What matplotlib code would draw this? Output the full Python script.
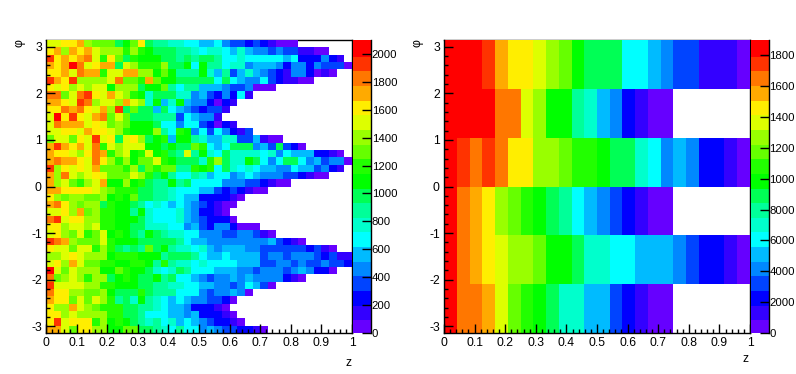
import numpy as np
import matplotlib
matplotlib.use("Agg")
import matplotlib.pyplot as plt
from matplotlib.colors import ListedColormap, BoundaryNorm

plt.rcParams['font.family'] = ['Liberation Sans', 'DejaVu Sans']

palette = ['#6600ff', '#3300ff', '#0000ff', '#0044ff', '#0088ff', '#00bbff', '#00ffff',
           '#00ffcc', '#00ff99', '#00ff55', '#00ff00', '#22ff00', '#66ff00', '#99ff00',
           '#ddff00', '#ffee00', '#ffaa00', '#ff7700', '#ff3300', '#ff0000']

# Palette level of each cell, top row (phi = +pi) first; short rows end in empty bins.
left_low = [
    [14,14,15,15,16,13,12,12,12,9,10,12,15,9,8,8,7,7,6,6],
    [15,16,13,16,15,16,14,13,13,13,11,13,11,10,9,9,9,8,8,7],
    [18,15,16,15,16,17,14,11,15,12,9,11,10,10,10,9,9,8,9,8],
    [16,15,16,19,17,14,15,16,16,9,14,13,11,11,11,13,9,9,10,6],
    [15,15,16,14,17,16,16,11,14,14,16,16,13,13,10,12,10,8,8,8],
    [18,16,15,18,13,13,13,13,14,17,12,12,11,16,12,10,10,9,9,9],
    [15,14,15,13,14,13,14,14,10,13,13,13,9,10,10,12,8,6,8,8],
    [17,17,12,14,17,18,15,14,16,14,13,11,10,7,9,9,9,7,7,4],
    [16,16,15,14,18,17,13,14,14,13,16,14,13,7,10,5,7,10,5,4],
    [15,15,17,16,17,15,14,16,13,18,9,12,9,9,5,9,6,5,4,3],
    [14,19,15,18,15,14,16,17,12,14,12,9,9,9,8,8,8,3,6,5],
    [14,17,16,16,16,14,15,14,12,13,12,10,10,10,9,6,6,4,6,6],
    [14,14,15,15,14,16,15,15,14,13,11,10,10,10,13,8,6,11,10,4],
    [12,14,14,12,15,14,18,14,15,9,14,15,13,9,10,11,5,10,10,8],
    [16,18,16,15,16,14,17,11,14,13,14,14,14,10,10,9,10,9,9,12],
    [16,15,15,14,13,15,17,16,11,13,14,10,11,14,10,11,9,8,14,8],
    [16,17,16,16,15,14,17,15,13,11,13,10,12,12,14,11,10,9,9,9],
    [18,13,15,14,15,14,16,12,12,12,11,13,9,12,11,12,12,8,8,11],
    [16,13,17,14,13,14,15,14,12,12,12,14,13,11,9,10,8,6,6,8],
    [16,13,14,12,11,13,14,16,10,10,13,10,11,9,8,8,10,8,9,6],
    [16,16,15,15,15,15,14,13,12,11,11,11,9,9,8,8,7,6,6,6],
    [15,13,12,13,13,12,12,13,10,11,10,12,9,9,8,8,7,6,5,5],
    [16,17,15,13,12,13,13,9,11,10,10,9,8,6,7,6,5,6,5,4],
    [14,14,15,13,16,12,13,11,11,10,10,8,10,7,6,6,6,7,5,4],
    [17,18,14,15,15,13,13,11,11,10,10,10,9,7,6,6,6,7,5,4],
    [15,15,13,14,14,13,14,11,11,10,10,9,9,7,7,7,6,6,4,5],
    [14,15,13,12,14,11,12,14,10,11,10,9,8,10,9,8,7,7,6,6],
    [18,17,16,13,12,12,12,14,11,10,10,10,9,9,9,9,9,8,6,5],
    [15,14,14,12,14,14,11,13,11,9,8,9,8,12,9,10,8,7,7,6],
    [13,13,14,15,14,13,13,13,10,11,11,11,10,10,10,8,9,9,9,8],
    [14,15,13,16,14,12,12,11,11,10,10,11,11,10,8,11,8,7,7,6],
    [19,14,12,14,13,13,13,10,10,12,11,10,10,9,7,6,7,9,8,6],
    [17,12,13,14,13,11,13,13,9,10,11,10,9,9,10,8,9,6,6,5],
    [18,14,14,14,14,13,13,11,11,10,10,10,9,9,8,8,7,7,6,6],
    [17,15,15,13,13,12,12,13,10,9,9,9,11,9,8,8,8,6,6,6],
    [16,15,15,12,14,12,14,13,11,8,9,7,10,8,7,6,5,6,5,4],
    [15,13,13,16,14,13,12,11,11,11,9,9,8,8,7,6,5,5,4,2],
    [15,15,13,14,13,13,13,13,11,11,9,9,8,6,6,6,5,5,4,5],
    [15,18,14,15,15,15,11,13,10,11,10,9,8,7,8,6,7,5,6,5],
    [16,16,14,12,15,15,13,13,10,10,12,12,9,9,8,7,6,8,6,6],
]
left_high = [
    [5,5,6,4,3,3,2,3,2,1,0,0,0],
    [6,7,7,6,5,7,5,4,4,3,4,3,3,1,1,0,0],
    [9,9,8,6,6,7,6,6,6,6,6,5,6,2,2,2,4,2,1],
    [10,8,8,6,7,7,4,5,5,5,4,2,4,4,2,4,3,3,3,0],
    [10,7,5,8,3,5,7,5,4,3,2,1,4,4,2,0,1,0],
    [9,9,6,9,6,5,4,4,6,3,2,1,1,0,0],
    [5,5,5,4,3,3,4,0,0,0],
    [5,3,2,4,2,6,1],
    [4,2,0,2,1],
    [2,3,3,1],
    [4,4,1],
    [3,2,0,2,1],
    [6,3,6,4,2,1,3],
    [7,5,5,7,7,3,3,5,1,0,0],
    [11,6,5,6,9,9,9,4,5,3,9,3,2,0],
    [10,7,6,9,7,7,7,7,6,7,4,6,5,5,5,2,2,1,0],
    [7,11,13,9,7,7,10,9,6,4,6,9,9,6,4,5,3,4,4,0],
    [10,11,6,9,7,6,7,6,5,5,4,4,6,5,5,3,4,2,1],
    [7,5,6,6,4,5,6,5,4,4,4,3,3,2,1,0,0],
    [6,6,6,4,4,4,3,3,2,1,0,0],
    [5,5,3,2,3,2,1,0,0],
    [2,2,2,2,1,0],
    [3,2,1,0,0],
    [2,2,1,0],
    [3,2,2,2,0],
    [3,2,4,4,2,0,0,0],
    [4,4,4,3,3,4,4,3,1,0],
    [5,4,4,4,4,4,4,4,4,5,3,2,1,0],
    [7,5,4,5,5,5,4,4,3,3,3,3,3,3,2,3,1,0],
    [6,5,5,6,5,5,5,5,3,4,4,3,4,4,4,3,2,3,1,1],
    [7,6,6,6,6,5,5,5,3,3,4,4,3,4,3,3,4,3,3,2],
    [6,6,5,5,5,4,4,3,4,4,4,3,4,5,4,2,2,0],
    [4,3,4,4,5,4,5,4,4,4,4,2,1,0],
    [5,5,4,4,3,4,6,5,3,0],
    [4,3,4,4,5,4,0],
    [4,3,3,2,0],
    [2,2,1,0],
    [2,2,2,1,0],
    [4,3,2,2,1,0],
    [4,5,4,3,3,2,2,1,0],
]
right_levels = [
    [19,19,19,18,16,15,15,14,13,12,10,9,9,9,6,6,5,4,3,3,1,1,1,0],
    [19,19,19,19,17,17,14,13,10,10,8,7,5,4,2,1,0,0],
    [19,18,17,18,17,15,15,13,13,12,11,11,10,9,9,7,6,4,5,4,2,2,1,0],
    [19,17,16,15,13,12,11,10,9,8,6,5,4,3,2,1,0,0],
    [19,17,16,15,14,13,13,12,10,10,9,7,7,6,6,5,5,5,4,3,2,2,1,0],
    [19,17,17,16,14,12,11,10,9,7,7,5,5,3,2,1,0,0],
]
left_step = 105
right_step = 950
left_cbar_ticks = [0, 200, 400, 600, 800, 1000, 1200, 1400, 1600, 1800, 2000]
right_cbar_ticks = [0, 2000, 4000, 6000, 8000, 10000, 12000, 14000, 16000, 18000]
right_cbar_labels = ['0', '2000', '4000', '6000', '8000', '1000', '1200', '1400', '1600', '1800']

W, H = 796, 374
def rect(x0, x1, ytop, ybot):
    return [x0 / W, 1 - ybot / H, (x1 - x0) / W, (ybot - ytop) / H]

def grid(rows, n, step):
    out = np.full((len(rows), n), np.nan)
    for i, r in enumerate(rows):
        out[i, :len(r)] = (np.array(r) + 0.5) * step
    return out[::-1]

cmap = ListedColormap(palette)
cmap.set_bad((1, 1, 1, 0))
pi = np.pi
TICK_LW = 1.0

def panel(box, cbox, data, step, zlabel_y, cticks, clabels):
    ax = fig.add_axes(rect(*box))
    ny, nx = data.shape
    norm = BoundaryNorm(np.arange(21) * step, 20)
    m = ax.pcolormesh(np.linspace(0, 1, nx + 1), np.linspace(-pi, pi, ny + 1), data,
                      cmap=cmap, norm=norm, linewidth=0, zorder=1)
    ax.set_xlim(0, 1)
    ax.set_ylim(-pi, pi)
    for s in ax.spines.values():
        s.set_linewidth(1.0)
    ax.spines['top'].set_zorder(0.5)
    ax.spines['right'].set_zorder(0.5)
    ax.set_xticks(np.arange(0, 1.01, 0.1))
    ax.set_xticklabels(['0', '0.1', '0.2', '0.3', '0.4', '0.5', '0.6', '0.7', '0.8', '0.9', '1'])
    ax.set_xticks(np.arange(0, 1.001, 0.02), minor=True)
    ax.set_yticks(np.arange(-3, 4))
    ax.set_yticklabels(['-3', '-2', '-1', '0', '1', '2', '3'])
    ax.set_yticks(np.arange(-3.0, 3.11, 0.2), minor=True)
    ax.tick_params(which='major', direction='in', length=6.5, width=TICK_LW, labelsize=8.7, pad=3)
    ax.tick_params(which='minor', direction='in', length=3.2, width=TICK_LW)
    ax.set_xlabel('z', fontsize=8.7, va='center', ha='center')
    ax.xaxis.set_label_coords(1 - 4 / 306, -(zlabel_y - box[3]) / 293)
    ax.set_ylabel('φ', fontsize=8.7, va='center', ha='center', rotation=90)
    ax.yaxis.set_label_coords(-27 / 306, 290 / 293)

    cax = fig.add_axes(rect(*cbox))
    cb = fig.colorbar(m, cax=cax, spacing='proportional', drawedges=False)
    cb.solids.set_edgecolor('face')
    cb.outline.set_visible(False)
    cb.set_ticks(cticks, labels=clabels)
    cb.minorticks_off()
    cax.spines['right'].set_visible(True)
    cax.spines['right'].set_linewidth(1.0)
    cax.tick_params(direction='in', length=6.5, width=TICK_LW, labelsize=8.2, pad=0.5,
                    right=True, left=False)
    return ax

fig = plt.figure(figsize=(W / 100, H / 100), dpi=100, facecolor='white')
left_rows = [a + b for a, b in zip(left_low, left_high)]
panel((46, 352, 40, 333), (353, 371, 40, 333), grid(left_rows, 40, left_step), left_step, 363.5,
      left_cbar_ticks, [str(t) for t in left_cbar_ticks])
panel((444, 750, 40, 333), (751, 768.5, 40, 333), grid(right_levels, 24, right_step), right_step, 359.5,
      right_cbar_ticks, right_cbar_labels)
fig.savefig('out.png', dpi=100)
